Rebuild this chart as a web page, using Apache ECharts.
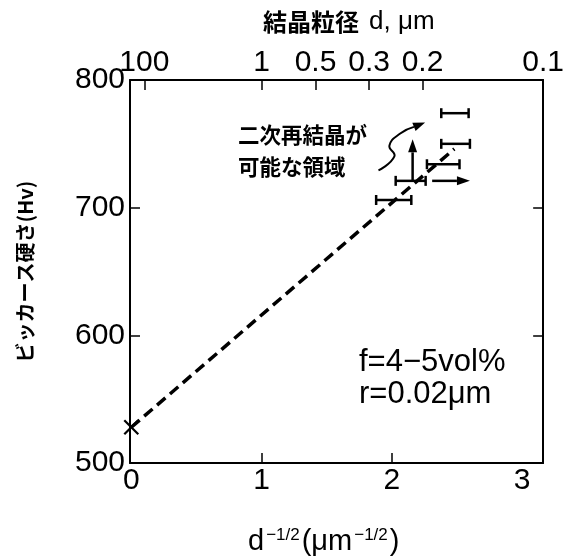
<!DOCTYPE html>
<html>
<head>
<meta charset="utf-8">
<script src="https://cdn.jsdelivr.net/npm/echarts@6/dist/echarts.min.js"></script>
<style>html,body{margin:0;padding:0;background:#fff}#c{width:567px;height:559px}</style>
</head>
<body>
<div id="c"></div>
<script>
// ---- data ----
const bottomTickLabels = [0, 1, 2, 3];
const topGrainSizes = [100, 1, 0.5, 0.3, 0.2, 0.1];      // d, μm
const topTickLabels = ['100', '1', '0.5', '0.3', '0.2', '0.1'];
const yTicks = [500, 600, 700, 800];

const errLow  = [2.38, 2.38, 2.27, 2.03, 1.88];
const errHigh = [2.59, 2.60, 2.52, 2.26, 2.15];
const errY    = [774, 750, 734, 721, 706];

const fitX = [0, 2.48];
const fitY = [528, 746];

const crossX = [0];
const crossY = [528];

// straight arrows: start x, start y, end x, end y
const arrowX1 = [2.16, 2.31];
const arrowY1 = [721, 721];
const arrowX2 = [2.16, 2.60];
const arrowY2 = [753.5, 721];

// curved arrow path
const curveX = [1.898, 2.020, 1.982, 2.065, 2.256];
const curveY = [729.2, 740.1, 748.7, 758.1, 766.7];

// ---- chart ----
const xMin = -0.01, xMax = 1 / Math.sqrt(0.1);
const topVals = topGrainSizes.map(d => 1 / Math.sqrt(d));
const FONT = '"Liberation Sans", "Noto Sans CJK JP", sans-serif';
const CJK = '"Noto Sans CJK JP", "Liberation Sans", sans-serif';

const chart = echarts.init(document.getElementById('c'), null, {renderer: 'canvas'});

function headPoly(p1, p2, len, half) {
  const dx = p2[0] - p1[0], dy = p2[1] - p1[1];
  const L = Math.sqrt(dx * dx + dy * dy) || 1;
  const ux = dx / L, uy = dy / L;
  const bx = p2[0] - ux * len, by = p2[1] - uy * len;
  return [[p2[0], p2[1]], [bx - uy * half, by + ux * half], [bx + uy * half, by - ux * half]];
}

const option = {
  animation: false,
  backgroundColor: '#fff',
  grid: {left: 130, right: 21, top: 80, bottom: 96, containLabel: false},
  xAxis: [
    {
      type: 'value', position: 'bottom', min: xMin, max: xMax,
      axisLine: {show: true, onZero: false, lineStyle: {color: '#000', width: 2}},
      axisTick: {show: true, inside: true, length: 10, customValues: [1, 2], lineStyle: {color: '#000', width: 1.5}},
      axisLabel: {show: true, customValues: bottomTickLabels, formatter: v => String(Math.round(v)),
        color: '#000', fontSize: 30, fontFamily: FONT, margin: 3},
      splitLine: {show: false}
    },
    {
      type: 'value', position: 'top', min: xMin, max: xMax,
      axisLine: {show: true, onZero: false, lineStyle: {color: '#000', width: 2}},
      axisTick: {show: true, inside: true, length: 10, customValues: topVals.slice(0, 5), lineStyle: {color: '#000', width: 1.5}},
      axisLabel: {show: true, customValues: topVals, color: '#000', fontSize: 30, fontFamily: FONT, margin: 2,
        formatter: v => {
          let bi = 0, bd = 1e9;
          topVals.forEach((t, i) => { const d = Math.abs(t - v); if (d < bd) { bd = d; bi = i; } });
          return topTickLabels[bi];
        }},
      splitLine: {show: false}
    }
  ],
  yAxis: [
    {
      type: 'value', position: 'left', min: 500, max: 800, interval: 100,
      name: 'ビッカース硬さ(Hv)', nameLocation: 'middle', nameRotate: 90, nameGap: 95,
      nameTextStyle: {color: '#000', fontSize: 20, fontFamily: CJK, fontWeight: 'bold'},
      axisLine: {show: true, onZero: false, lineStyle: {color: '#000', width: 2}},
      axisTick: {show: true, inside: true, length: 10, lineStyle: {color: '#000', width: 1.5}},
      axisLabel: {show: true, color: '#000', fontSize: 30, fontFamily: FONT, margin: 5},
      splitLine: {show: false}
    },
    {
      type: 'value', position: 'right', min: 500, max: 800, interval: 100,
      axisLine: {show: true, onZero: false, lineStyle: {color: '#000', width: 2}},
      axisTick: {show: true, inside: true, length: 10, lineStyle: {color: '#000', width: 1.5}},
      axisLabel: {show: false},
      splitLine: {show: false}
    }
  ],
  graphic: [
    {type: 'text', left: 263, top: 9, style: {
      text: '{c|結晶粒径}{l|d, μm}',
      rich: {
        c: {font: 'bold 24px ' + CJK, fill: '#000'},
        l: {font: '26px ' + FONT, fill: '#000', padding: [0, 0, 0, 10]}
      }
    }},
    {type: 'text', left: 248, top: 527, style: {
      text: '{b|d}{s|−1/2}{b|(}{b|μm}{s|−1/2}{b|)}',
      rich: {
        b: {fontSize: 29, fontFamily: FONT, fill: '#000', verticalAlign: 'bottom'},
        s: {fontSize: 17, fontFamily: FONT, fill: '#000', verticalAlign: 'top', padding: [0, 2, 13, 2]}
      }
    }},
    {type: 'text', left: 238, top: 119, style: {text: '二次再結晶が\n可能な領域', fill: '#000',
      font: 'bold 21.5px ' + CJK, lineHeight: 32}},
    {type: 'text', left: 359, top: 346, style: {text: 'f=4−5vol%\nr=0.02μm', fill: '#000',
      font: '31px ' + FONT, lineHeight: 32}}
  ],
  series: [
    {
      type: 'line', xAxisIndex: 0, yAxisIndex: 0, symbol: 'none', silent: true,
      data: fitX.map((x, i) => [x, fitY[i]]),
      lineStyle: {color: '#000', width: 3.5, type: [11, 6]}
    },
    {
      type: 'custom', xAxisIndex: 0, yAxisIndex: 0, clip: false, silent: true,
      data: errY.map((y, i) => [errLow[i], errHigh[i], y]),
      renderItem: (params, api) => {
        const a = api.coord([api.value(0), api.value(2)]);
        const b = api.coord([api.value(1), api.value(2)]);
        const st = {stroke: '#000', lineWidth: 2.5};
        return {type: 'group', children: [
          {type: 'line', shape: {x1: a[0], y1: a[1], x2: b[0], y2: b[1]}, style: st},
          {type: 'line', shape: {x1: a[0], y1: a[1] - 5, x2: a[0], y2: a[1] + 5}, style: st},
          {type: 'line', shape: {x1: b[0], y1: b[1] - 5, x2: b[0], y2: b[1] + 5}, style: st}
        ]};
      }
    },
    {
      type: 'custom', xAxisIndex: 0, yAxisIndex: 0, clip: false, silent: true,
      data: crossX.map((x, i) => [x, crossY[i]]),
      renderItem: (params, api) => {
        const p = api.coord([api.value(0), api.value(1)]);
        const s = 7, st = {stroke: '#000', lineWidth: 2.2};
        return {type: 'group', children: [
          {type: 'line', shape: {x1: p[0] - s, y1: p[1] - s, x2: p[0] + s, y2: p[1] + s}, style: st},
          {type: 'line', shape: {x1: p[0] - s, y1: p[1] + s, x2: p[0] + s, y2: p[1] - s}, style: st}
        ]};
      }
    },
    {
      type: 'custom', xAxisIndex: 0, yAxisIndex: 0, clip: false, silent: true,
      data: arrowX1.map((x, i) => [x, arrowY1[i], arrowX2[i], arrowY2[i]]),
      renderItem: (params, api) => {
        const p1 = api.coord([api.value(0), api.value(1)]);
        const p2 = api.coord([api.value(2), api.value(3)]);
        const poly = headPoly(p1, p2, 13, 4.5);
        const bx = (poly[1][0] + poly[2][0]) / 2, by = (poly[1][1] + poly[2][1]) / 2;
        return {type: 'group', children: [
          {type: 'line', shape: {x1: p1[0], y1: p1[1], x2: bx, y2: by}, style: {stroke: '#000', lineWidth: 2.5}},
          {type: 'polygon', shape: {points: poly}, style: {fill: '#000'}}
        ]};
      }
    },
    {
      type: 'custom', xAxisIndex: 0, yAxisIndex: 0, clip: false, silent: true,
      data: [[curveX[0], curveY[0]]],
      renderItem: (params, api) => {
        const pts = curveX.map((x, i) => api.coord([x, curveY[i]]));
        const n = pts.length;
        const tip = pts[n - 1];
        const prev = [tip[0] - 14, tip[1] + 5.5];
        const poly = headPoly(prev, tip, 12, 4.5);
        const linePts = pts.slice(0, n - 1).concat([[(poly[1][0] + poly[2][0]) / 2, (poly[1][1] + poly[2][1]) / 2]]);
        return {type: 'group', children: [
          {type: 'polyline', shape: {points: linePts, smooth: 0.5}, style: {stroke: '#000', lineWidth: 2, fill: null}},
          {type: 'polygon', shape: {points: poly}, style: {fill: '#000'}}
        ]};
      }
    }
  ]
};
chart.setOption(option);
</script>
</body>
</html>
